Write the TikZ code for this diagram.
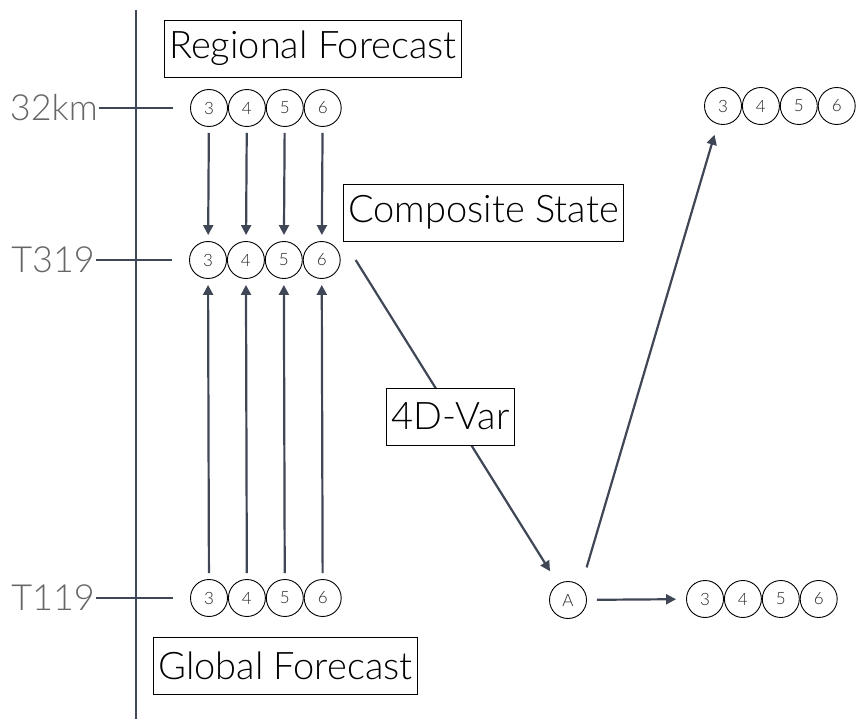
\documentclass[tikz,border=0pt]{standalone}
\usepackage{fontspec}
\setmainfont{Lato Light}
\usetikzlibrary{positioning,arrows.meta}
\definecolor{slate}{HTML}{3F4756}
\definecolor{levelgray}{HTML}{666666}
% a row of four level circles, named <prefix>-3 ... <prefix>-6
\newcommand{\levelrow}[3]{%
  \node[ball] (#1-3) at (#2,#3) {3};
  \node[ball, right=0pt of #1-3] (#1-4) {4};
  \node[ball, right=0pt of #1-4] (#1-5) {5};
  \node[ball, right=0pt of #1-5] (#1-6) {6};}

\begin{document}
\begin{tikzpicture}[x=1pt, y=-1pt,
  res/.style={font=\fontsize{36}{40}\selectfont, text=levelgray,
              anchor=east, inner sep=1pt},
  title/.style={draw, line width=0.9pt, fill=white,
                font=\fontsize{38}{42}\selectfont,
                inner xsep=5pt, minimum height=57pt},
  ball/.style={circle, draw, line width=0.9pt, minimum size=37pt,
               inner sep=0pt, font=\fontsize{17}{19}\selectfont,
               text=black!85},
  arr/.style={-{Triangle[length=10pt, width=10pt]}, draw=slate,
              line width=2.2pt},
  tick/.style={draw=slate, line width=2.2pt}]
\useasboundingbox (0,0) rectangle (857,719);

% resolution axis
\coordinate (axtop) at (136,10);
\coordinate (axbot) at (136,719);
\draw[tick] (axtop) -- (axbot);

\node[res] (km) at (99,108) {32km};
\node[res] (t319) at (96,260) {T319};
\node[res] (t119) at (96,598) {T119};

% forecast levels
\levelrow{reg}{209}{108}
\levelrow{comp}{208}{260}
\levelrow{glob}{209}{598}
\levelrow{low}{705}{599}
\levelrow{high}{723}{106}
\node[ball] (A) at (568,600) {A};

\draw[tick, shorten >=17pt] (km.east) -- (reg-3);
\draw[tick, shorten >=17pt] (t319.east) -- (comp-3);
\draw[tick, shorten >=17pt] (t119.east) -- (glob-3);

\foreach \n in {3,...,6} {
  \draw[arr, shorten <=6pt, shorten >=6pt] (reg-\n) -- (comp-\n);
  \draw[arr, shorten <=6pt, shorten >=6pt] (glob-\n) -- (comp-\n);
}

\draw[arr, shorten >=15pt] ([xshift=15pt]comp-6.east) -- (A);
\draw[arr, shorten <=34pt, shorten >=11pt] ([xshift=9pt]A.center) -- (high-3);
\draw[arr, shorten <=10pt, shorten >=10pt] (A) -- (low-3);

\node[title] (regional) at (313,48.5) {Regional Forecast};
\node[title] (composite) at (483.5,212.5) {Composite State};
\node[title] (global) at (285.5,665.5) {Global Forecast};
\node[title] (var) at (450.5,416.5) {4D-Var};
\end{tikzpicture}
\end{document}
